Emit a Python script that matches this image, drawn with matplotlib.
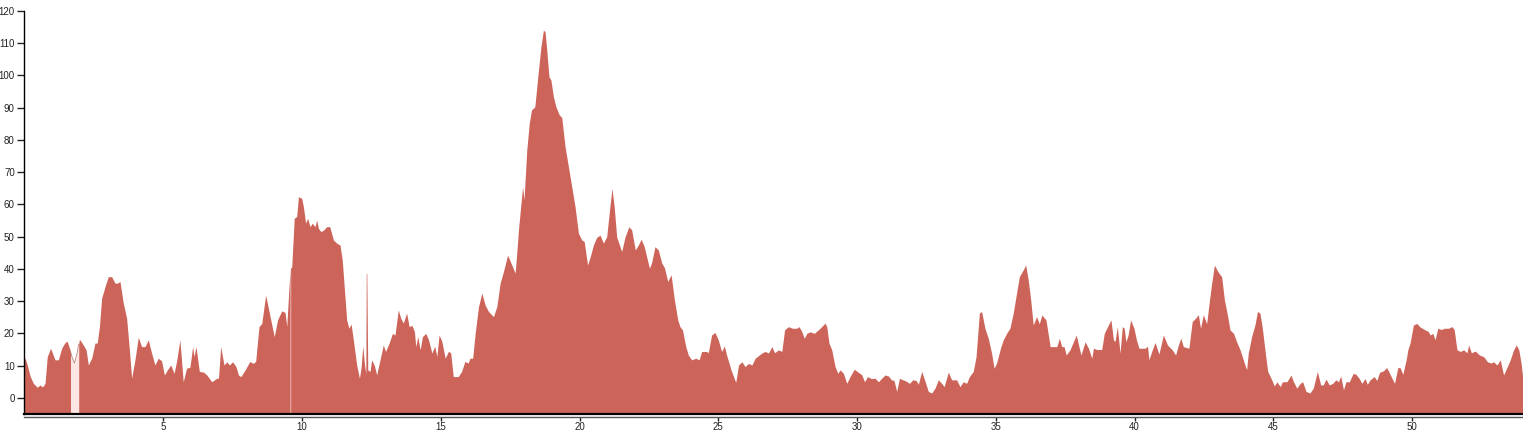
"""
Area profile chart (values read off the reference picture)
"""

import numpy as np
import matplotlib.pyplot as plt

plt.rcParams['font.family'] = ['Liberation Sans', 'DejaVu Sans']

# profile points, split by stretch of the x axis
x_start = [0.0, 0.02, 0.1, 0.2, 0.32, 0.46, 0.56, 0.65, 0.74, 0.82, 0.94, 1.1, 1.22,
           1.34, 1.46, 1.54, 1.64, 1.72, 1.8, 1.9, 1.98, 2.12, 2.22, 2.3, 2.42, 2.54,
           2.62, 2.7, 2.78, 2.9, 3.02, 3.14, 3.26, 3.35, 3.44, 3.56, 3.68, 3.78, 3.86,
           3.98, 4.1, 4.22, 4.34, 4.46, 4.58, 4.7, 4.82, 4.94, 5.04, 5.15, 5.27, 5.39,
           5.49, 5.6, 5.72, 5.84, 5.96, 6.06, 6.11, 6.18, 6.3, 6.45, 6.57, 6.75, 6.93,
           6.99, 7.07, 7.19, 7.29, 7.38, 7.5, 7.62]
y_start = [12.3, 12.3, 10.2, 6.8, 4.5, 3.3, 4.0, 3.4, 4.5, 12.8, 15.4, 11.8, 11.8,
           15.4, 17.2, 17.5, 14.9, 12.5, 10.8, 14.0, 18.2, 16.4, 14.9, 10.2, 12.3, 17.0,
           17.0, 22.1, 30.9, 34.5, 37.6, 37.6, 35.6, 35.6, 36.1, 29.4, 24.7, 14.9, 6.1,
           11.8, 18.8, 15.9, 15.9, 18.0, 13.9, 10.2, 12.3, 11.5, 7.1, 8.7, 10.2, 7.6,
           11.8, 18.0, 5.0, 9.2, 9.5, 15.9, 12.8, 15.9, 8.2, 8.0, 7.1, 5.0, 6.1,
           6.1, 15.9, 10.2, 11.2, 10.2, 11.2, 9.7]

x_first_hump = [7.71, 7.8, 7.95, 8.12, 8.24, 8.33, 8.45, 8.55, 8.69, 8.85, 9.0, 9.12,
                9.27, 9.39, 9.45, 9.57, 9.63, 9.72, 9.81, 9.87, 9.99, 10.05, 10.13,
                10.2, 10.29, 10.37, 10.47, 10.53, 10.59, 10.68, 10.77, 10.89, 11.0,
                11.13, 11.25, 11.37, 11.45, 11.61, 11.69, 11.77, 11.85, 11.97, 12.07,
                12.13, 12.19, 12.25, 12.3, 12.315, 12.335, 12.37, 12.45, 12.51, 12.61,
                12.69, 12.77, 12.93, 13.01, 13.14, 13.26, 13.35, 13.47, 13.56, 13.65,
                13.77, 13.86, 13.96, 14.05, 14.1, 14.17, 14.26, 14.34, 14.46, 14.56,
                14.68, 14.78, 14.86, 14.94, 15.04, 15.16, 15.28, 15.36]
y_first_hump = [7.1, 6.6, 8.7, 11.3, 10.7, 11.3, 22.1, 23.1, 31.9, 25.2, 19.0, 24.2,
                27.0, 26.5, 22.1, 40.2, 40.6, 55.7, 56.3, 62.4, 61.9, 59.3, 54.2,
                55.7, 53.1, 54.2, 53.1, 55.2, 52.6, 51.6, 52.0, 53.1, 53.1,
                49.0, 48.0, 47.4, 42.8, 24.2, 21.6, 22.9, 18.0, 10.2, 6.1,
                9.5, 16.2, 10.5, 7.6, 38.6, 38.6, 8.7, 8.2, 11.8, 10.0,
                7.1, 10.2, 16.4, 14.4, 17.0, 20.0, 19.5, 27.3, 24.7, 23.2,
                26.3, 22.1, 22.5, 20.6, 15.9, 19.0, 14.9, 19.0, 20.0, 18.0,
                13.9, 16.0, 12.9, 19.5, 17.5, 12.3, 14.5, 13.9]

x_main_peak = [15.45, 15.63, 15.75, 15.87, 15.99, 16.05, 16.15, 16.24, 16.36, 16.48,
               16.6, 16.72, 16.9, 17.02, 17.14, 17.26, 17.41, 17.56, 17.68, 17.74,
               17.8, 17.88, 17.95, 18.0, 18.1, 18.19, 18.27, 18.39, 18.51, 18.61,
               18.7, 18.76, 18.82, 18.9, 18.97, 19.06, 19.15, 19.27, 19.36, 19.48,
               19.6, 19.72, 19.84, 19.96, 20.08, 20.17, 20.29, 20.38, 20.5, 20.62,
               20.74, 20.86, 20.98, 21.07, 21.17, 21.25, 21.34, 21.52, 21.64, 21.78,
               21.88, 22.01, 22.12, 22.22, 22.33, 22.52, 22.6, 22.72, 22.84, 22.96,
               23.06, 23.18, 23.3, 23.42, 23.54, 23.62, 23.71, 23.83, 23.92, 24.04,
               24.19, 24.31]
y_main_peak = [6.6, 6.6, 8.2, 11.3, 10.8, 12.3, 12.3, 20.0, 28.3, 32.5,
               28.8, 26.8, 25.2, 28.3, 35.6, 39.2, 44.3, 41.2, 38.7, 45.0,
               52.1, 59.3, 65.5, 61.4, 76.9, 85.2, 89.3, 90.3, 100.7, 108.9,
               114.1, 113.5, 107.9, 99.6, 98.6, 93.4, 90.3, 87.8, 87.0, 77.9,
               71.7, 65.5, 59.3, 51.1, 49.0, 48.5, 41.2, 43.6, 47.4, 49.8,
               50.5, 48.0, 50.0, 57.3, 65.0, 59.3, 49.9, 45.4, 49.9, 53.1,
               52.1, 45.9, 47.4, 49.2, 47.0, 40.2, 42.0, 46.9, 45.9, 41.9,
               40.4, 36.1, 38.2, 30.4, 24.2, 22.1, 21.1, 15.9, 13.3, 11.8,
               12.3, 11.8]

x_middle = [24.4, 24.58, 24.64, 24.76, 24.88, 25.0, 25.12, 25.22, 25.3, 25.46, 25.63,
            25.73, 25.85, 25.97, 26.09, 26.21, 26.33, 26.57, 26.69, 26.81, 26.93,
            27.03, 27.17, 27.29, 27.39, 27.53, 27.67, 27.83, 27.91, 28.01, 28.1,
            28.19, 28.31, 28.46, 28.67, 28.85, 28.91, 28.99, 29.09, 29.21, 29.31,
            29.39, 29.51, 29.63, 29.75, 29.9, 30.05, 30.17, 30.27, 30.38, 30.51,
            30.65, 30.77, 30.89, 31.01, 31.13, 31.25, 31.33, 31.43, 31.53, 31.65,
            31.77, 31.89, 32.01, 32.13, 32.21, 32.33, 32.45, 32.57, 32.69, 32.81,
            32.93, 33.05, 33.14, 33.29, 33.41, 33.59, 33.71, 33.83, 33.95, 34.05,
            34.19, 34.29, 34.41, 34.49, 34.61, 34.73, 34.85, 34.94, 35.03, 35.17,
            35.27, 35.39, 35.51, 35.63, 35.75, 35.85, 35.99, 36.08, 36.17, 36.26,
            36.35, 36.47, 36.57, 36.66, 36.81, 36.96, 37.08, 37.2, 37.29, 37.38,
            37.46, 37.54, 37.68, 37.9, 38.07, 38.22]
y_middle = [14.4, 14.4, 14.0, 19.5, 20.3, 18.0, 14.4, 16.1, 13.3, 8.7, 4.8,
            10.2, 11.2, 9.7, 10.7, 10.2, 12.3, 13.9, 14.4, 13.9, 15.9,
            14.0, 14.9, 14.4, 21.1, 22.1, 21.6, 21.6, 22.1, 20.6, 18.5,
            20.0, 20.5, 20.0, 21.6, 23.2, 22.1, 17.0, 14.9, 9.7, 7.6,
            8.7, 7.6, 4.5, 6.6, 8.9, 7.9, 7.2, 5.0, 6.6, 6.0,
            6.1, 5.0, 6.1, 7.1, 6.8, 5.5, 5.5, 2.0, 6.1, 5.6,
            5.2, 4.5, 5.6, 5.4, 4.2, 8.2, 5.2, 2.0, 1.5, 3.0,
            5.6, 4.5, 3.5, 8.0, 5.6, 5.6, 3.5, 5.0, 4.5, 6.6,
            8.2, 12.8, 26.3, 26.8, 21.6, 18.5, 13.9, 9.2, 10.8, 15.4,
            18.0, 20.0, 21.6, 26.3, 32.5, 37.6, 39.7, 41.2, 36.6, 30.4,
            22.6, 25.2, 23.0, 25.7, 24.2, 15.9, 15.9, 15.9, 18.5, 15.9,
            15.9, 13.3, 15.0, 19.5, 13.3, 17.4]

x_late = [38.34, 38.46, 38.52, 38.64, 38.82, 38.91, 39.03, 39.15, 39.24, 39.3, 39.38,
          39.48, 39.56, 39.63, 39.69, 39.77, 39.86, 39.98, 40.07, 40.16, 40.38, 40.47,
          40.52, 40.62, 40.74, 40.88, 41.04, 41.19, 41.36, 41.48, 41.58, 41.67, 41.76,
          41.96, 42.08, 42.2, 42.3, 42.38, 42.48, 42.6, 42.68, 42.78, 42.88, 43.0,
          43.14, 43.24, 43.36, 43.44, 43.57, 43.68, 43.8, 43.92, 44.04, 44.1, 44.22,
          44.34, 44.43, 44.52, 44.6, 44.7, 44.8, 44.92, 45.04, 45.13, 45.25, 45.33,
          45.49, 45.64, 45.73, 45.85, 45.97]
y_late = [15.4, 12.3, 15.4, 15.0, 15.0, 20.0, 22.1, 24.2, 18.0, 17.5, 22.1,
          13.9, 22.1, 21.6, 17.4, 19.5, 24.2, 21.6, 18.0, 15.4, 15.4, 16.0,
          11.8, 14.4, 17.2, 13.6, 19.5, 16.4, 14.9, 13.3, 16.4, 18.5, 15.9,
          15.4, 23.7, 24.7, 25.8, 21.6, 25.8, 23.0, 28.8, 35.5, 41.2, 39.2,
          37.6, 30.4, 25.2, 21.1, 20.0, 17.4, 15.0, 11.8, 8.7, 13.9, 19.0,
          22.6, 26.8, 26.3, 22.1, 14.9, 8.2, 6.1, 3.7, 5.0, 3.5, 5.0,
          5.0, 7.1, 5.0, 3.0, 4.5]

x_end = [46.06, 46.18, 46.32, 46.44, 46.59, 46.71, 46.8, 46.9, 47.02, 47.14, 47.26,
         47.35, 47.43, 47.53, 47.62, 47.74, 47.88, 47.98, 48.1, 48.19, 48.31, 48.39,
         48.49, 48.64, 48.73, 48.83, 48.97, 49.09, 49.21, 49.37, 49.49, 49.57, 49.67,
         49.79, 49.85, 49.93, 50.05, 50.17, 50.29, 50.47, 50.59, 50.65, 50.75, 50.83,
         50.93, 51.05, 51.17, 51.32, 51.44, 51.52, 51.62, 51.74, 51.86, 51.98, 52.04,
         52.14, 52.28, 52.43, 52.58, 52.72, 52.85, 52.94, 53.06, 53.18, 53.3, 53.42,
         53.54, 53.66, 53.76, 53.85, 53.93, 54.0]
y_end = [5.0, 2.0, 1.5, 3.0, 8.2, 4.0, 4.0, 5.8, 4.0, 4.5, 5.6,
         5.0, 6.8, 2.5, 5.0, 5.0, 7.6, 7.3, 6.0, 4.5, 6.0, 4.2,
         5.6, 6.6, 5.4, 7.9, 8.4, 9.4, 7.3, 4.5, 9.4, 9.4, 7.3,
         11.8, 14.9, 17.0, 22.6, 23.1, 22.0, 21.1, 20.6, 19.5, 20.0, 18.0,
         21.6, 21.2, 21.6, 21.6, 22.1, 21.2, 14.9, 14.4, 14.9, 14.0, 16.4,
         14.0, 14.5, 13.3, 12.8, 11.2, 10.8, 11.2, 10.2, 11.8, 7.1, 9.4,
         11.8, 14.9, 16.4, 14.9, 10.8, 5.6]

# light band with no red fill, and a hairline seam
BAND = (1.66, 1.95)
SEAM = (9.572, 9.59)

x = np.array(x_start + x_first_hump + x_main_peak + x_middle + x_late + x_end)
y = np.array(y_start + y_first_hump + y_main_peak + y_middle + y_late + y_end)

RED = '#cd6459'
PINK = '#fde6e3'


def piece(x0, x1):
    keep = (x > x0) & (x < x1)
    xs = np.concatenate([[x0], x[keep], [x1]])
    ys = np.concatenate([[np.interp(x0, x, y)], y[keep], [np.interp(x1, x, y)]])
    return xs, ys


fig = plt.figure(figsize=(15.23, 4.32), dpi=100)
ax = fig.add_axes([24.5 / 1523, 1 - 414 / 432, 1 - 24.5 / 1523, (414 - 11) / 432])

for a, b in [(0, BAND[0]), (BAND[1], SEAM[0]), (SEAM[1], 54.0)]:
    xs, ys = piece(a, b)
    ax.fill_between(xs, -5, ys, color=RED, linewidth=0)

xs, ys = piece(*BAND)
ax.fill_between(xs, -5, ys, color=PINK, linewidth=0)
ax.plot(xs, ys, color='#b58a85', linewidth=0.6)

ax.set_xlim(0, 54)
ax.set_ylim(-5, 120)
ax.set_xticks(range(5, 55, 5))
ax.set_yticks(range(0, 130, 10))

for s in ['top', 'right']:
    ax.spines[s].set_visible(False)
ax.spines['left'].set_color('black')
ax.spines['left'].set_linewidth(1)
ax.spines['bottom'].set_position(('outward', 2))
ax.spines['bottom'].set_color('#555555')
ax.spines['bottom'].set_linewidth(1)
ax.axhline(-5, color='black', linewidth=1.6, clip_on=False)

ax.tick_params(axis='y', labelsize=7, length=5, width=1, pad=2, colors='#222222')
ax.tick_params(axis='x', labelsize=7, length=3, width=1, pad=0.5, colors='#222222')

plt.savefig('out.png', dpi=100)
